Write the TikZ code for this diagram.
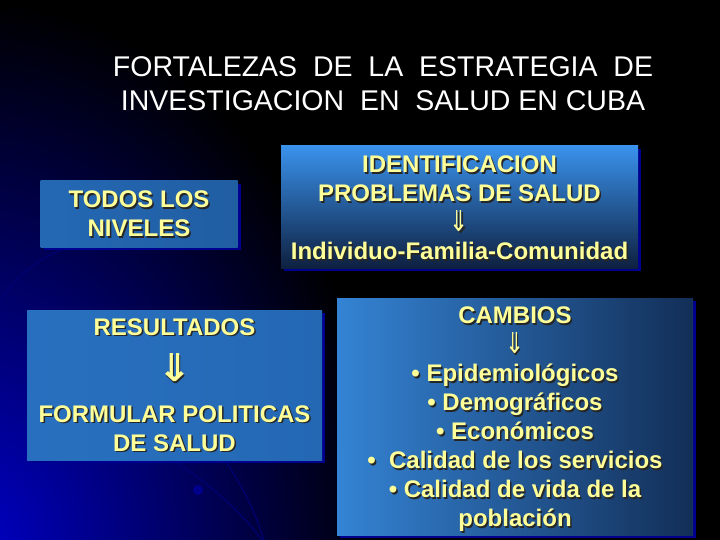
\documentclass[tikz,border=0pt]{standalone}
\usepackage{fontspec}
\setmainfont{Liberation Sans}
\newfontfamily\arrowfont{DejaVu Sans}
\usetikzlibrary{shadows}
\definecolor{paleyellow}{HTML}{FFFF99}
\definecolor{bgblue}{HTML}{0000C8}
\definecolor{boxshadow}{HTML}{000090}
\definecolor{lightblue}{HTML}{3A92EC}
\definecolor{midblue}{HTML}{2468B4}
\definecolor{darkblue}{HTML}{0E2040}
\tikzset{
  titletext/.style={text=white, font=\fontsize{28.5}{34}\selectfont, inner sep=0},
  box/.style={inner sep=0, drop shadow={fill=boxshadow, opacity=1, shadow xshift=3pt, shadow yshift=-3pt}},
  boxtext/.style={text=paleyellow, align=center, inner sep=0, font=\bfseries\fontsize{24}{29}\selectfont},
  arcline/.style={draw=blue!45!black, line width=1.2pt},
}
% label with a dark copy under it
\def\shadowlabel(#1)[#2]#3{%
  \node[boxtext, text=black!85, xshift=1.5pt, yshift=#2-1.5pt] (#1-sh) at (#1) {#3};
  \node[boxtext, yshift=#2] (#1-txt) at (#1) {#3};}
\def\thinarrow{\smash{\raisebox{-1pt}{\scalebox{0.95}[1.2]{\arrowfont\mdseries\char"21D3}}}}
\def\fatarrow{\smash{\raisebox{-3pt}{\scalebox{1.3}[1.2]{\arrowfont\bfseries\fontsize{32}{32}\selectfont\char"21D3}}}}

\begin{document}
\begin{tikzpicture}[x=1pt,y=-1pt]
  %%%%% START %%%%%
  \useasboundingbox (0,0) rectangle (720,540);
  \fill[black] (0,0) rectangle (720,540);

  \begin{scope}
    \clip (0,0) rectangle (720,540);
    \shade[inner color=bgblue, outer color=black] (-30,560) ellipse (420 and 560);
    \draw[arcline] (0,300) .. controls (25,265) and (55,248) .. (90,242);
    \draw[arcline] (165,455) .. controls (205,480) and (240,510) .. (262,540);
    \draw[arcline] (226,462) .. controls (245,490) and (256,515) .. (264,540);
    \fill[blue!55!black] (198,490) circle (5);
  \end{scope}

  \node[titletext] (title1) at (383,67) {FORTALEZAS\ \ DE\ \ LA\ \ ESTRATEGIA\ \ DE};
  \node[titletext] (title2) at (383,101) {INVESTIGACION\ \ EN\ \ SALUD EN CUBA};

  \node[box, minimum width=197pt, minimum height=66pt,
        left color=midblue, middle color=lightblue, right color=midblue!90!black] (niveles) at (139,214) {};
  \shadowlabel(niveles)[0pt]{TODOS LOS\\NIVELES}

  \node[box, minimum width=357pt, minimum height=122pt,
        top color=lightblue, bottom color=darkblue] (problemas) at (459.5,207) {};
  \shadowlabel(problemas)[-1pt]{IDENTIFICACION\\PROBLEMAS DE SALUD\\\thinarrow\\Individuo-Familia-Comunidad}

  \node[box, minimum width=295pt, minimum height=150pt, shading angle=-60,
        left color=midblue!80!lightblue, middle color=lightblue, right color=midblue] (resultados) at (174.5,385) {};
  \shadowlabel(resultados)[0pt]{RESULTADOS\\[14.5pt]\fatarrow\\[14.5pt]FORMULAR POLITICAS\\DE SALUD}

  \node[box, minimum width=356pt, minimum height=237pt, shading angle=-35,
        left color=lightblue!90!black, right color=darkblue!80!midblue] (cambios) at (515,416.5) {};
  \shadowlabel(cambios)[-3pt]{CAMBIOS\\\thinarrow\\\textbullet\ Epidemiológicos\\\textbullet\ Demográficos\\\textbullet\ Económicos\\\textbullet\ \ Calidad de los servicios\\\textbullet\ Calidad de vida de la\\población}

  %%%%% END %%%%%
\end{tikzpicture}
\end{document}
